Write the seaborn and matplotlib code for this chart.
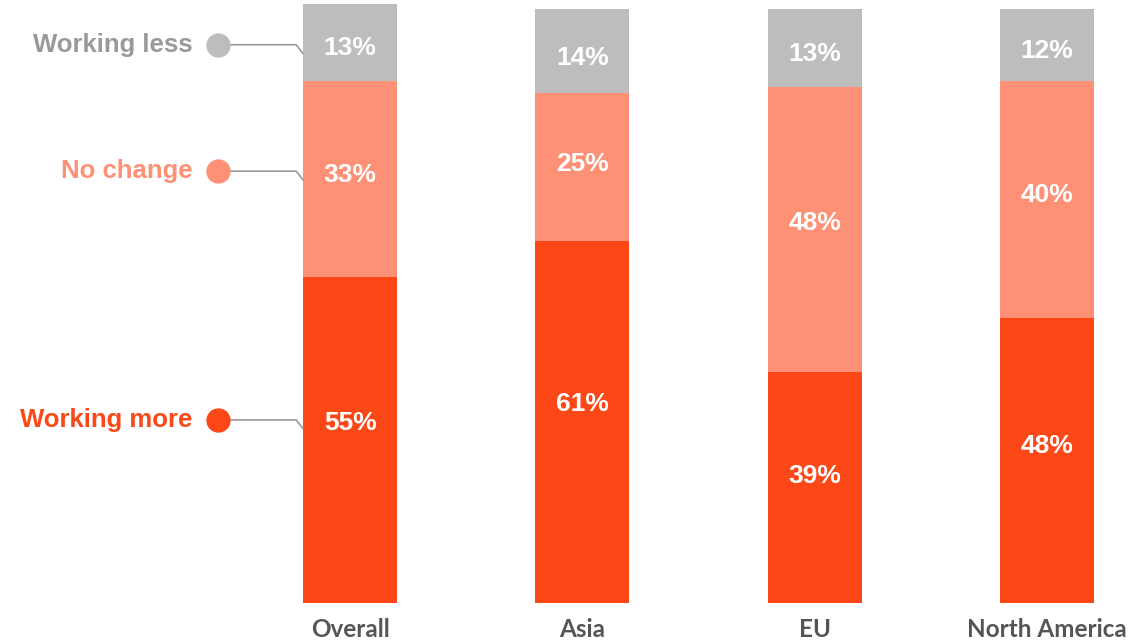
import pandas as pd
import matplotlib.pyplot as plt
import seaborn as sns

regions = ['Overall', 'Asia', 'EU', 'North America']
working_more = [55, 61, 39, 48]
no_change = [33, 25, 48, 40]
working_less = [13, 14, 13, 12]

layers = ['Working more', 'No change', 'Working less']
colors = ['#fc4817', '#fd9075', '#bdbdbd']
text_colors = ['#fc4817', '#fd9075', '#999999']

df = pd.DataFrame({'region': regions, 'more': working_more,
                   'nochange': no_change, 'less': working_less})
df['cum1'] = df['more']
df['cum2'] = df['more'] + df['nochange']
df['cum3'] = df['cum2'] + df['less']

sns.set_style('white')
plt.rcParams['font.family'] = ['Liberation Sans', 'DejaVu Sans']

fig = plt.figure(figsize=(11.34, 6.41), dpi=100)
ax = fig.add_axes([0, 38 / 641, 1, 603 / 641])

width = 0.405
# draw from the top of the stack down so each layer covers the one above
for col, c in zip(['cum3', 'cum2', 'cum1'], colors[::-1]):
    sns.barplot(data=df, x='region', y=col, color=c, width=width,
                saturation=1, linewidth=0, ax=ax)

# percentage labels inside segments
fracs = [0.55, 0.52, 0.42]
series = [working_more, no_change, working_less]
for i in range(len(regions)):
    bottom = 0
    for vals, f in zip(series, fracs):
        ax.text(i, bottom + vals[i] * f, f'{vals[i]}%', ha='center', va='center',
                color='white', fontsize=19, fontweight='bold')
        bottom += vals[i]

# legend labels with dots and connectors on the left of first bar
bottom = 0
for name, vals, f, c, tc in zip(layers, series, fracs, colors, text_colors):
    y = bottom + vals[0] * f + 0.6
    bottom += vals[0]
    ax.plot([-0.57, -0.232, -width / 2], [y, y, y - 1.5], color='#999999',
            lw=1.2, zorder=1, clip_on=False)
    ax.plot(-0.57, y, 'o', color=c, markersize=16.5, zorder=3, clip_on=False)
    ax.text(-0.68, y, name, ha='right', va='center', color=tc,
            fontsize=18.5, fontweight='bold')

ax.set_xlim(-1.507, 3.374)
ax.set_ylim(0, 101.6)
ax.set_xlabel('')
ax.set_ylabel('')
ax.set_yticks([])
ax.tick_params(axis='x', length=0, pad=11)
for lbl in ax.get_xticklabels():
    lbl.set_fontfamily(['Lato', 'DejaVu Sans'])
    lbl.set_fontweight('bold')
    lbl.set_fontsize(17.5)
    lbl.set_color('#555555')
sns.despine(ax=ax, left=True, bottom=True)

plt.savefig('out.png', dpi=100)
